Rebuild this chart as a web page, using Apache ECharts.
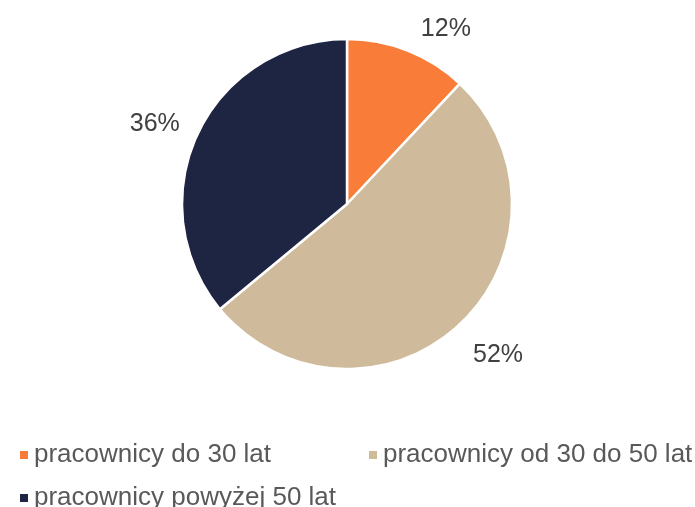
<!DOCTYPE html>
<html>
<head>
<meta charset="utf-8">
<script src="https://cdn.jsdelivr.net/npm/echarts@6/dist/echarts.min.js"></script>
<style>
html, body { margin: 0; padding: 0; background: #fff; }
#chart { width: 695px; height: 507px; }
</style>
</head>
<body>
<div id="chart"></div>
<script>
var categories = ['pracownicy do 30 lat', 'pracownicy od 30 do 50 lat', 'pracownicy powyżej 50 lat'];
var shares = [12, 52, 36];
var colors = ['#F97D38', '#CFBB9B', '#1E2543'];
// small nudges for the percent labels, [dx, dy]
var labelNudge = [[0, -1], [-7, 15], [7, 0]];

var myChart = echarts.init(document.getElementById('chart'));

var legendBase = {
    icon: 'rect',
    itemWidth: 10,
    itemHeight: 10,
    itemGap: 10,
    textStyle: {
        color: '#595959',
        fontSize: 26,
        fontFamily: 'Liberation Sans, Arial, sans-serif'
    }
};

var option = {
    backgroundColor: '#fff',
    animation: false,
    color: colors,
    legend: [
        Object.assign({}, legendBase, { left: 13, top: 437, data: [categories[0]] }),
        Object.assign({}, legendBase, { left: 362, top: 437, data: [categories[1]] }),
        Object.assign({}, legendBase, { left: 13, top: 480, data: [categories[2]] })
    ],
    series: [{
        type: 'pie',
        center: [347, 204],
        radius: [0, 165],
        startAngle: 90,
        clockwise: true,
        avoidLabelOverlap: false,
        itemStyle: {
            borderColor: '#fff',
            borderWidth: 2.5
        },
        label: {
            show: true,
            position: 'outside',
            formatter: '{d}%',
            color: '#404040',
            fontSize: 25,
            fontFamily: 'Liberation Sans, Arial, sans-serif'
        },
        labelLine: {
            show: false,
            length: 22,
            length2: 0
        },
        labelLayout: function (params) {
            var n = labelNudge[params.dataIndex];
            return { dx: n[0], dy: n[1] };
        },
        data: categories.map(function (name, i) {
            return { name: name, value: shares[i] };
        })
    }]
};

myChart.setOption(option);
</script>
</body>
</html>
